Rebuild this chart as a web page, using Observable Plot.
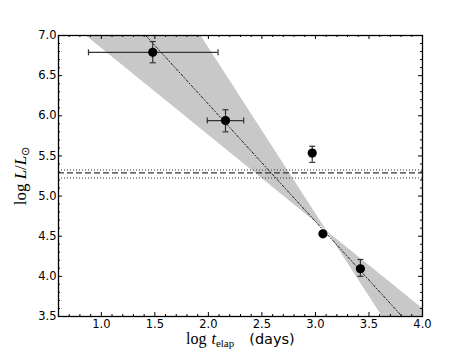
<!DOCTYPE html>
<html><head><meta charset="utf-8">
<script src="https://cdn.jsdelivr.net/npm/d3@7"></script>
<script src="https://cdn.jsdelivr.net/npm/@observablehq/plot@0.6"></script>
<style>body{margin:0;background:#fff}</style>
</head><body><div id="chart"></div>
<script>
// Data points (log t_elap in days, log L/Lsun) with error bars
const logT  = [1.48, 2.16, 2.97, 3.07, 3.42];
const logL  = [6.79, 5.94, 5.535, 4.53, 4.095];
const tLo   = [0.88, 1.99, null, null, null];
const tHi   = [2.09, 2.33, null, null, null];
const lLo   = [6.66, 5.80, 5.42, null, 4.00];
const lHi   = [6.925, 6.075, 5.62, null, 4.21];

// Best-fit line endpoints and confidence band edges
const fitX = [1.415, 3.81];
const fitY = [7.0, 3.5];
const bandX = [0.6, 3.11, 4.0];
const bandShallow = [7.276, 4.56, 3.60];
const bandSteep   = [9.746, 4.56, 2.725];

// Horizontal reference level and its range
const refLevel = [5.29];
const refRange = [5.325, 5.225];

// Tick values
const xTicks = [1.0, 1.5, 2.0, 2.5, 3.0, 3.5, 4.0];
const yTicks = [3.5, 4.0, 4.5, 5.0, 5.5, 6.0, 6.5, 7.0];
const xMinor = d3.range(6, 41).filter(d => d % 5 !== 0).map(d => d / 10);
const yMinor = d3.range(35, 71).filter(d => d % 5 !== 0).map(d => d / 10);

const pts = logT.map((x, i) => ({x, y: logL[i], tLo: tLo[i], tHi: tHi[i], lLo: lLo[i], lHi: lHi[i]}));
const xErr = pts.filter(d => d.tLo != null);
const yErr = pts.filter(d => d.lLo != null);
const fit = fitX.map((x, i) => ({x, y: fitY[i]}));
const band = bandX.map((x, i) => ({x, y1: bandShallow[i], y2: bandSteep[i]}));

const W = 469, H = 352, mL = 58, mR = 47, mT = 35, mB = 36;
const plotW = W - mL - mR, plotH = H - mT - mB;

const capH = {draw(ctx, size) { const s = Math.sqrt(size / Math.PI); ctx.moveTo(-s, 0); ctx.lineTo(s, 0); }};
const capV = {draw(ctx, size) { const s = Math.sqrt(size / Math.PI); ctx.moveTo(0, -s); ctx.lineTo(0, s); }};

const errColor = "#333";
const svg = Plot.plot({
  width: W, height: H,
  marginLeft: mL, marginRight: mR, marginTop: mT, marginBottom: mB,
  style: {fontFamily: "DejaVu Sans", fontSize: "11.5px", background: "#fff", color: "#000", overflow: "visible"},
  x: {domain: [0.6, 4.0], label: null},
  y: {domain: [3.5, 7.0], label: null},
  marks: [
    Plot.areaY(band, {x: "x", y1: "y1", y2: "y2", fill: "#c8c8c8", clip: true}),
    Plot.ruleY(refLevel, {stroke: "#333", strokeWidth: 1.3, strokeDasharray: "6,3"}),
    Plot.ruleY(refRange, {stroke: "#333", strokeWidth: 1, strokeDasharray: "1,2"}),
    Plot.line(fit, {x: "x", y: "y", stroke: "#222", strokeWidth: 1, strokeDasharray: "2.5,2,1,2"}),
    Plot.ruleY(xErr, {y: "y", x1: "tLo", x2: "tHi", stroke: errColor, strokeWidth: 1.2}),
    Plot.dot(xErr, {x: "tLo", y: "y", symbol: capV, r: 3, fill: "none", stroke: errColor, strokeWidth: 1.2}),
    Plot.dot(xErr, {x: "tHi", y: "y", symbol: capV, r: 3, fill: "none", stroke: errColor, strokeWidth: 1.2}),
    Plot.ruleX(yErr, {x: "x", y1: "lLo", y2: "lHi", stroke: errColor, strokeWidth: 1.2}),
    Plot.dot(yErr, {x: "x", y: "lLo", symbol: capH, r: 3, fill: "none", stroke: errColor, strokeWidth: 1.2}),
    Plot.dot(yErr, {x: "x", y: "lHi", symbol: capH, r: 3, fill: "none", stroke: errColor, strokeWidth: 1.2}),
    Plot.dot(pts, {x: "x", y: "y", r: 4.6, fill: "#000", stroke: "none"}),
    // inward ticks on all four sides
    Plot.ruleX(xTicks, {insetTop: plotH - 4, stroke: "#000"}),
    Plot.ruleX(xTicks, {insetBottom: plotH - 4, stroke: "#000"}),
    Plot.ruleX(xMinor, {insetTop: plotH - 2, stroke: "#000"}),
    Plot.ruleX(xMinor, {insetBottom: plotH - 2, stroke: "#000"}),
    Plot.ruleY(yTicks, {insetRight: plotW - 4, stroke: "#000"}),
    Plot.ruleY(yTicks, {insetLeft: plotW - 4, stroke: "#000"}),
    Plot.ruleY(yMinor, {insetRight: plotW - 2, stroke: "#000"}),
    Plot.ruleY(yMinor, {insetLeft: plotW - 2, stroke: "#000"}),
    Plot.frame({stroke: "#000", strokeWidth: 1.3}),
    Plot.axisX({ticks: xTicks, tickSize: 0, tickPadding: 3, tickFormat: d3.format(".1f"), label: null}),
    Plot.axisY({ticks: yTicks, tickSize: 0, tickPadding: 2, tickFormat: d3.format(".1f"), label: null})
  ]
});

const s = d3.select(svg);
// x label
const xl = s.append("text").attr("x", 186).attr("y", 344).attr("text-anchor", "start")
  .attr("font-family", "Liberation Serif").attr("font-size", 16).attr("fill", "#000");
xl.append("tspan").text("log");
xl.append("tspan").attr("dx", 5).attr("font-style", "italic").text("t");
xl.append("tspan").attr("dy", 3).attr("font-size", 11).text("elap");
xl.append("tspan").attr("dx", 15).attr("dy", -3).attr("font-family", "DejaVu Sans").attr("font-size", 14.5).text("(days)");
// y label
const yl = s.append("text").attr("transform", "translate(26,176) rotate(-90)").attr("text-anchor", "middle")
  .attr("font-family", "Liberation Serif").attr("font-size", 17).attr("fill", "#000");
yl.append("tspan").text("log ");
yl.append("tspan").attr("font-style", "italic").text("L");
yl.append("tspan").text("/");
yl.append("tspan").attr("font-style", "italic").text("L");
yl.append("tspan").attr("dy", 3).attr("font-size", 11).text("⊙");

document.getElementById("chart").appendChild(svg);
</script>
</body></html>
